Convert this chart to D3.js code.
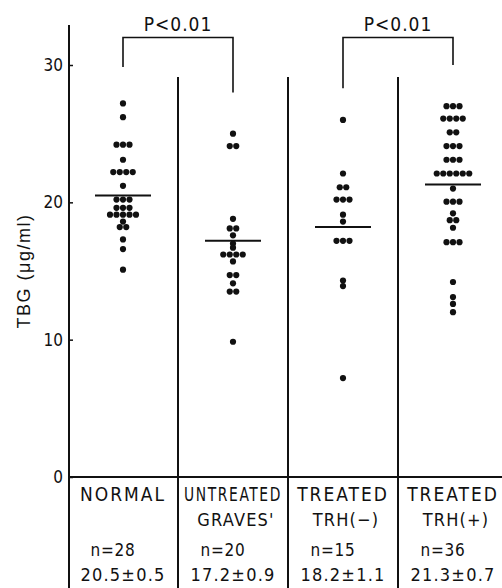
<!DOCTYPE html>
<html lang="en">
<head>
	<meta charset="utf-8">
	<title>TBG</title>
	<style>
		body { margin: 0; background: #fff; }
		svg { display: block; }
		.lbl { font-family: "DejaVu Sans Condensed", "Liberation Sans Narrow", "Liberation Sans", sans-serif; fill: #111; }
		.tick text { font-family: "DejaVu Sans Condensed", "Liberation Sans", sans-serif; font-size: 17px; fill: #111; }
		.tick line { stroke: #111; stroke-width: 1.5; }
	</style>
	<script type="text/javascript" src="https://d3js.org/d3.v7.min.js"></script>
</head>
<body>
	<script type="text/javascript">
            // groups and their header lines
            var groups = ["normal", "untreated", "trhMinus", "trhPlus"];
            var header1 = ["NORMAL", "UNTREATED", "TREATED", "TREATED"];
            var header2 = ["", "GRAVES'", "TRH(\u2212)", "TRH(+)"];
            var counts = [28, 20, 15, 36];
            var means = [20.5, 17.2, 18.2, 21.3];
            var sems = [0.5, 0.9, 1.1, 0.7];
            var yTicks = [0, 10, 20, 30];

            // individual TBG values (ug/ml)
            var normal = [27.2, 26.2, 24.2, 24.2, 24.2, 23.1, 22.2, 22.2, 22.2, 22.2,
                21.2, 20.2, 20.2, 20.2, 19.6, 19.6, 19.6, 19.1, 19.1, 19.1, 19.1, 19.1,
                18.6, 18.2, 18.2, 17.3, 16.6, 15.1];
            var untreated = [25.0, 24.1, 24.1, 18.8, 18.1, 18.1, 17.6, 17.0, 16.7,
                16.2, 16.2, 16.2, 16.2, 15.7, 14.7, 14.7, 14.1, 13.5, 13.5, 9.85];
            var trhMinus = [26.0, 22.1, 21.1, 21.1, 20.2, 20.2, 20.2, 19.1, 18.6,
                17.2, 17.2, 17.2, 14.3, 13.9, 7.2];
            var trhPlus = [27.0, 27.0, 27.0, 26.1, 26.1, 26.1, 26.1, 25.1, 25.1,
                24.1, 24.1, 24.1, 23.1, 23.1, 23.1, 22.1, 22.1, 22.1, 22.1, 22.1, 22.1,
                21.0, 20.05, 20.05, 20.05, 19.2, 18.7, 18.7, 18.15, 17.1, 17.1, 17.1,
                14.2, 13.1, 12.6, 12.0];
            var values = [normal, untreated, trhMinus, trhPlus];

            // significance brackets: [from group, to group, left leg end, right leg end, top]
            var brackets = [
                ["normal", "untreated", 29.85, 28.0, 32.0],
                ["trhMinus", "trhPlus", 28.3, 30.0, 32.0]
            ];

            var w = 502;
            var h = 588;
            var axisX = 69;
            var dotR = 3.1;
            var dotGap = 6.5;

            var svg = d3.select("body")
                .append("svg")
                .attr("width", w)
                .attr("height", h);

            var yScale = d3.scaleLinear()
                .domain([0, 30])
                .range([477, 65]);
            var xScale = d3.scaleBand()
                .domain(groups)
                .range([68, 508]);
            var bw = xScale.bandwidth();
            var cx = g => xScale(g) + bw / 2;

            // y axis
            svg.append("line")
                .attr("x1", axisX).attr("x2", axisX)
                .attr("y1", 25).attr("y2", h)
                .attr("stroke", "#111")
                .attr("stroke-width", 2);
            var yAxis = d3.axisLeft(yScale)
                .tickValues(yTicks)
                .tickFormat(d3.format("d"))
                .tickSizeInner(-4)
                .tickSizeOuter(0)
                .tickPadding(6);
            svg.append("g")
                .attr("transform", "translate(" + axisX + ",0)")
                .call(yAxis)
                .call(g => g.select(".domain").remove());

            svg.append("text")
                .attr("transform", "translate(30,271) rotate(-90)")
                .attr("text-anchor", "middle")
                .style("font-family", "'Liberation Sans', sans-serif")
                .style("font-size", "18px")
                .attr("letter-spacing", "1.5px")
                .attr("fill", "#111")
                .text("TBG (\u03bcg/ml)");

            // column dividers in the plot area and the table below
            svg.selectAll("line.div")
                .data(groups.slice(1))
                .enter()
                .append("line")
                .attr("class", "div")
                .attr("x1", d => xScale(d)).attr("x2", d => xScale(d))
                .attr("y1", 77).attr("y2", h)
                .attr("stroke", "#111")
                .attr("stroke-width", 2);
            svg.append("line")
                .attr("x1", axisX).attr("x2", w)
                .attr("y1", yScale(0)).attr("y2", yScale(0))
                .attr("stroke", "#111")
                .attr("stroke-width", 2);

            // dots: equal values sit side by side, centred on the column
            var dots = [];
            values.forEach((vals, gi) => {
                var rows = d3.group(vals, v => v);
                rows.forEach((row, v) => {
                    row.forEach((_, i) => {
                        dots.push({ g: groups[gi], v: v, off: (i - (row.length - 1) / 2) * dotGap });
                    });
                });
            });
            svg.selectAll("circle")
                .data(dots)
                .enter()
                .append("circle")
                .attr("cx", d => cx(d.g) + d.off)
                .attr("cy", d => yScale(d.v))
                .attr("r", dotR)
                .attr("fill", "#111");

            // mean bars
            svg.selectAll("line.mean")
                .data(means)
                .enter()
                .append("line")
                .attr("class", "mean")
                .attr("x1", (d, i) => cx(groups[i]) - 28)
                .attr("x2", (d, i) => cx(groups[i]) + 28)
                .attr("y1", d => yScale(d))
                .attr("y2", d => yScale(d))
                .attr("stroke", "#111")
                .attr("stroke-width", 2);

            // brackets
            svg.selectAll("path.br")
                .data(brackets)
                .enter()
                .append("path")
                .attr("class", "br")
                .attr("d", d => "M" + cx(d[0]) + "," + yScale(d[2]) +
                    "V" + yScale(d[4]) + "H" + cx(d[1]) + "V" + yScale(d[3]))
                .attr("fill", "none")
                .attr("stroke", "#111")
                .attr("stroke-width", 1.6);
            svg.selectAll("text.p")
                .data(brackets)
                .enter()
                .append("text")
                .attr("class", "lbl p")
                .attr("x", d => (cx(d[0]) + cx(d[1])) / 2)
                .attr("y", 31)
                .attr("text-anchor", "middle")
                .attr("font-size", "19px")
                .attr("letter-spacing", "1px")
                .text("P<0.01");

            // table text
            var rowsText = [
                { t: header1, y: 501, size: 19, ls: 2, dx: 0 },
                { t: header2, y: 526, size: 18, ls: 1.2, dx: 3 },
                { t: counts.map(n => "n=" + n), y: 556, size: 17, ls: 0.8, dx: -10 },
                { t: means.map((m, i) => m.toFixed(1) + "\u00b1" + sems[i].toFixed(1)), y: 581, size: 18, ls: 1.2, dx: 0 }
            ];
            rowsText.forEach(r => {
                svg.selectAll(null)
                    .data(r.t)
                    .enter()
                    .append("text")
                    .attr("class", "lbl")
                    .attr("x", (d, i) => cx(groups[i]) + r.dx)
                    .attr("y", r.y)
                    .attr("text-anchor", "middle")
                    .attr("font-size", r.size + "px")
                    .attr("letter-spacing", r.ls + "px")
                    .text(d => d)
                    .each(function () {
                        // squeeze labels that would not fit their cell
                        if (this.getComputedTextLength() > bw - 12) {
                            d3.select(this)
                                .attr("textLength", bw - 12)
                                .attr("lengthAdjust", "spacingAndGlyphs");
                        }
                    });
            });
        </script>
</body>
</html>
